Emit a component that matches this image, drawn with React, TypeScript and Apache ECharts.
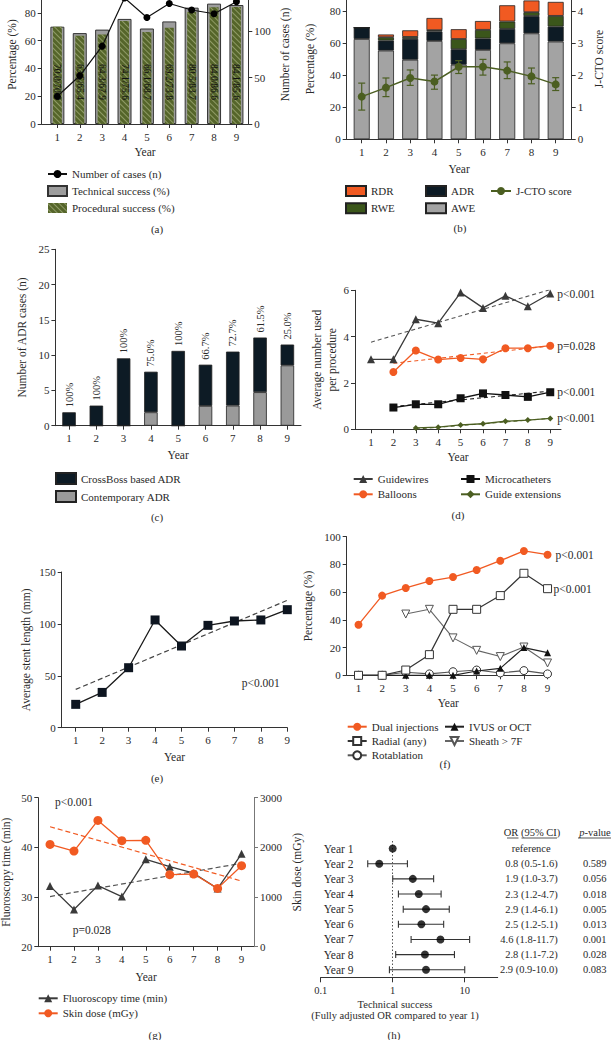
import React, { useEffect, useRef } from 'react';
import * as echarts from 'echarts';

// ---------- data ----------
const years = [1, 2, 3, 4, 5, 6, 7, 8, 9];

// (a)
const casesN = [30, 52, 84, 136, 115, 130, 123, 119, 132];
const technicalSuccess = [70.0, 65.4, 67.9, 75.6, 68.7, 73.8, 83.7, 86.6, 85.6];
const proceduralSuccess = [70.0, 63.5, 64.3, 74.1, 66.1, 69.2, 80.5, 84.0, 84.1];

// (b)
const awe = [62.5, 55.3, 49.6, 61.3, 46.5, 55.7, 59.8, 66.0, 60.9];
const adr = [7.1, 6.2, 13.0, 5.9, 9.6, 7.1, 9.0, 10.8, 9.3];
const rwe = [0, 2.1, 1.2, 0.8, 6.4, 5.4, 4.6, 2.4, 6.7];
const rdr = [0, 1.7, 4.1, 7.6, 6.1, 5.5, 10.1, 7.3, 8.7];
const jcto = [1.33, 1.61, 1.91, 1.8, 2.26, 2.26, 2.14, 1.96, 1.71];
const jctoLow = [0.91, 1.33, 1.68, 1.56, 2.05, 2.0, 1.89, 1.73, 1.52];
const jctoHigh = [1.75, 1.91, 2.16, 2.0, 2.45, 2.49, 2.41, 2.22, 1.92];

// (c)
const crossBossAdr = [1.9, 2.85, 9.55, 5.75, 10.6, 5.85, 7.65, 7.75, 2.95];
const contemporaryAdr = [0, 0, 0, 1.9, 0, 2.8, 2.85, 4.75, 8.55];
const crossBossPct = ['100%', '100%', '100%', '75.0%', '100%', '66.7%', '72.7%', '61.5%', '25.0%'];

// (d)
const guidewires = [3.02, 3.02, 4.75, 4.58, 5.9, 5.24, 5.76, 5.31, 5.86];
const balloons = [null, 2.47, 3.4, 3.01, 3.08, 3.02, 3.5, 3.5, 3.61];
const microcatheters = [null, 0.94, 1.08, 1.08, 1.34, 1.55, 1.48, 1.4, 1.6];
const guideExtensions = [null, null, 0.06, 0.09, 0.19, 0.24, 0.35, 0.4, 0.47];
const guidewiresTrend = [[1, 3.76], [9, 6.03]];
const balloonsTrend = [[2, 2.85], [9, 3.6]];
const microTrend = [[2, 0.98], [9, 1.65]];
const guideExtTrend = [[3, 0.01], [9, 0.47]];
const dPValues = ['p<0.001', 'p=0.028', 'p<0.001', 'p<0.001'];

// (e)
const stentLength = [22.5, 34, 57.8, 103.8, 78.7, 98.6, 102.8, 103.8, 113.7];
const stentTrend = [[1, 36.9], [9, 122.7]];

// (f)
const dualInjections = [36.5, 57.5, 63, 68, 70.9, 76, 82.7, 89.7, 87];
const radialAny = [0, 0, 3.8, 14.9, 47.6, 47.6, 57.5, 73.6, 62.5];
const ivusOct = [0, 0, 0, 0, 0, 3.1, 5, 20, 16.3];
const sheath7F = [null, null, 44.2, 47.6, 27, 18, 13.5, 20.4, 8.9];
const rotablation = [0, 0, 2.2, 1, 2.6, 3.8, 1.7, 3.4, 1];

// (g)
const fluoroTime = [32.2, 27.5, 32.3, 30.1, 37.6, 36.1, 34.8, 31.7, 38.7];
const skinDose = [2060, 1926, 2543, 2134, 2141, 1450, 1463, 1174, 1631];
const fluoroTrend = [[1, 30.1], [9, 36.8]];
const doseTrend = [[1, 2416], [9, 1322]];

// (h)
const yearLabels = ['Year 1', 'Year 2', 'Year 3', 'Year 4', 'Year 5', 'Year 6', 'Year 7', 'Year 8', 'Year 9'];
const orPoint = [1, 0.65, 1.9, 2.3, 2.9, 2.5, 4.6, 2.8, 2.9];
const orLow = [null, 0.45, 1.0, 1.2, 1.4, 1.2, 1.8, 1.1, 0.9];
const orHigh = [null, 1.6, 3.7, 4.7, 6.1, 5.1, 11.7, 7.2, 10.0];
const orText = ['reference', '0.8 (0.5-1.6)', '1.9 (1.0-3.7)', '2.3 (1.2-4.7)', '2.9 (1.4-6.1)', '2.5 (1.2-5.1)', '4.6 (1.8-11.7)', '2.8 (1.1-7.2)', '2.9 (0.9-10.0)'];
const pText = ['', '0.589', '0.056', '0.018', '0.005', '0.013', '0.001', '0.028', '0.083'];
const logTicks = [0.1, 1, 10];

// ---------- style ----------
const FONT = "'Liberation Serif', 'Times New Roman', serif";
const TXT = '#2a2a2a';
const AX = '#333333';
const ORANGE = '#f15a22';
const OLIVE = '#4b5e21';
const NAVY = '#0d1b25';
const GRAY = '#a3a3a3';

const lbl = (extra: any = {}) => ({ color: TXT, fontFamily: FONT, fontSize: 11, ...extra });
const axisLine = (color = AX) => ({ show: true, lineStyle: { color, width: 1 } });
const tickS = (len = 4, color = AX) => ({ show: true, length: len, lineStyle: { color, width: 1 } });

function yearAxis(gridIndex: number, min: number, max: number, nameGap: number, extra: any = {}) {
  return {
    type: 'value', gridIndex, min, max,
    axisLine: axisLine(), axisTick: { ...tickS(4), customValues: years },
    axisLabel: lbl({ customValues: years, margin: 7 }),
    splitLine: { show: false },
    name: 'Year', nameLocation: 'middle', nameGap, nameTextStyle: lbl({ fontSize: 11.5 }),
    ...extra,
  };
}

function valAxis(gridIndex: number, min: number, max: number, interval: number, name: string, nameGap: number, position = 'left', color = AX, extra: any = {}, hideMax = false) {
  return {
    type: 'value', gridIndex, min, max, interval, position,
    axisLine: axisLine(color), axisTick: tickS(4, color),
    axisLabel: lbl({ margin: 6, showMaxLabel: !hideMax, formatter: (v: number) => String(v) }),
    splitLine: { show: false },
    name, nameLocation: 'middle', nameGap, nameRotate: 90, nameTextStyle: lbl({ fontSize: 11.5 }),
    ...extra,
  };
}

const pairs = (arr: (number | null)[]) => years.map((y, i) => [y, arr[i]]);
// value first, year second (used with encode {x:1, y:0} so that stacking runs on the value dimension)
const pairsVY = (arr: number[]) => years.map((y, i) => [arr[i], y]);

const legendBase = (left: number, top: number, data: any[], itemGap: number, itemWidth = 19, itemHeight = 10) => ({
  left, top, orient: 'vertical', padding: 0, itemGap, itemWidth, itemHeight,
  selectedMode: false, data,
  textStyle: lbl({ fontSize: 11, lineHeight: 12 }),
});

function errV(color: string) {
  return (params: any, api: any) => {
    const x = api.value(0), lo = api.value(1), hi = api.value(2);
    const a = api.coord([x, lo]);
    const b = api.coord([x, hi]);
    const cw = 3.5;
    const style = { stroke: color, lineWidth: 1.2 };
    return {
      type: 'group', children: [
        { type: 'line', shape: { x1: a[0], y1: a[1], x2: b[0], y2: b[1] }, style },
        { type: 'line', shape: { x1: a[0] - cw, y1: a[1], x2: a[0] + cw, y2: a[1] }, style },
        { type: 'line', shape: { x1: b[0] - cw, y1: b[1], x2: b[0] + cw, y2: b[1] }, style },
      ],
    };
  };
}

function errH(params: any, api: any) {
  const lo = api.value(0), hi = api.value(1), yi = api.value(2);
  const a = api.coord([lo, yi]);
  const b = api.coord([hi, yi]);
  const ch = 3.5;
  const style = { stroke: '#333', lineWidth: 1.1 };
  return {
    type: 'group', children: [
      { type: 'line', shape: { x1: a[0], y1: a[1], x2: b[0], y2: b[1] }, style },
      { type: 'line', shape: { x1: a[0], y1: a[1] - ch, x2: a[0], y2: a[1] + ch }, style },
      { type: 'line', shape: { x1: b[0], y1: b[1] - ch, x2: b[0], y2: b[1] + ch }, style },
    ],
  };
}

const ptxt = (text: string, x: number, y: number, align = 'left', extra: any = {}) => ({
  type: 'text', x, y, silent: true,
  style: { text, fill: TXT, fontFamily: FONT, fontSize: 11, align, verticalAlign: 'middle', ...extra },
});

const endLbl = (text: string, distance = 7) => ({
  show: true, formatter: text, distance, color: TXT, fontFamily: FONT, fontSize: 11.5,
});

function buildOption() {
  const grids = [
    { left: 41.7, top: -15, width: 206.6, height: 139 },      // a
    { left: 346.7, top: -21.2, width: 225, height: 160.5 },   // b
    { left: 55.4, top: 249.3, width: 245.6, height: 176.4 },  // c
    { left: 355, top: 290.3, width: 206, height: 139 },       // d
    { left: 61.7, top: 572, width: 225.6, height: 155.7 },    // e
    { left: 346.7, top: 536.7, width: 203.2, height: 138.6 }, // f
    { left: 38.3, top: 797.7, width: 215.7, height: 149 },    // g
    { left: 320.7, top: 841, width: 177, height: 136.3 },     // h
  ].map((g) => ({ ...g, containLabel: false, outerBoundsMode: 'none' }));

  const xAxis: any[] = [
    yearAxis(0, 0.3, 9.53, 22),
    { type: 'value', gridIndex: 0, min: 0.3, max: 9.53, show: false },
    yearAxis(1, 0.381, 9.66, 24),
    yearAxis(2, 0.5, 9.5, 23),
    yearAxis(3, 0.286, 9.48, 22),
    yearAxis(4, 0.47, 9, 23),
    yearAxis(5, 0.5, 9.1, 22),
    yearAxis(6, 0.51, 9.52, 24),
    {
      type: 'log', gridIndex: 7, min: 0.1, max: 28.7, logBase: 10,
      axisLine: axisLine(), axisTick: { ...tickS(5), customValues: logTicks },
      axisLabel: lbl({ customValues: logTicks, margin: 8, fontSize: 10.5, formatter: (v: number) => String(v) }),
      splitLine: { show: false }, minorTick: { show: false },
    },
  ];

  const yAxis: any[] = [
    valAxis(0, 0, 100, 20, 'Percentage (%)', 24, 'left', AX, {}, true),
    valAxis(0, 0, 150, 50, 'Number of cases (n)', 31, 'right', AX, {}, true),
    valAxis(1, 0, 100, 20, 'Percentage (%)', 31, 'left', AX, {}, true),
    valAxis(1, 0, 5, 1, 'J-CTO score', 21, 'right', AX, {}, true),
    valAxis(2, 0, 25, 5, 'Number of ADR cases (n)', 27),
    valAxis(3, 0, 6, 2, 'Average number used\nper procedure', 15, 'left', AX, { nameTextStyle: lbl({ fontSize: 11.5, lineHeight: 15 }) }),
    valAxis(4, 0, 150, 50, 'Average stent length (mm)', 30),
    valAxis(5, 0, 100, 20, 'Percentage (%)', 33),
    valAxis(6, 20, 50, 10, 'Fluoroscopy time (min)', 26.5),
    valAxis(6, 0, 3000, 1000, 'Skin dose (mGy)', 37, 'right', '#777'),
    {
      type: 'category', gridIndex: 7, data: yearLabels, inverse: true,
      axisLine: { show: false }, axisTick: { show: false },
      axisLabel: lbl({ align: 'left', margin: -3, fontSize: 11.5, interval: 0, hideOverlap: false }),
    },
    {
      type: 'category', gridIndex: 7, data: orText, inverse: true, position: 'right',
      axisLine: { show: false }, axisTick: { show: false },
      axisLabel: lbl({
        align: 'right', margin: 60, fontSize: 10.5, interval: 0,
        formatter: (v: string) => (v === 'reference' ? `{ref|${v}}` : v),
        rich: { ref: { padding: [0, 7, 0, 0], fontFamily: FONT, fontSize: 10.5, color: TXT } },
      }),
    },
    {
      type: 'category', gridIndex: 7, data: pText, inverse: true, position: 'right',
      axisLine: { show: false }, axisTick: { show: false },
      axisLabel: lbl({ align: 'center', margin: 97, fontSize: 10.5, interval: 0 }),
    },
  ];

  const barBorder = { borderColor: '#222', borderWidth: 0.8 };
  const encVY = { x: 1, y: 0 };

  const series: any[] = [
    // (a)
    {
      type: 'bar', name: 'Technical success (%)', xAxisIndex: 0, yAxisIndex: 0, barWidth: 14, z: 2,
      data: pairs(technicalSuccess), itemStyle: { color: '#9d9d9d', borderColor: '#333', borderWidth: 1 },
    },
    {
      type: 'bar', name: 'Procedural success (%)', xAxisIndex: 1, yAxisIndex: 0, barWidth: 9, z: 3,
      data: pairs(proceduralSuccess),
      itemStyle: {
        color: '#55652a',
        decal: { symbol: 'rect', symbolSize: 1, color: 'rgba(190,200,150,0.55)', dashArrayX: [1, 0], dashArrayY: [1, 2.2], rotation: Math.PI / 4 },
      },
      label: {
        show: true, position: 'insideBottom', distance: 24, rotate: -90, align: 'right', verticalAlign: 'middle',
        color: '#111', fontFamily: FONT, fontSize: 9.5,
        formatter: (p: any) => `${proceduralSuccess[p.dataIndex].toFixed(1)}/${technicalSuccess[p.dataIndex].toFixed(1)}`,
      },
    },
    {
      type: 'line', name: 'Number of cases (n)', xAxisIndex: 0, yAxisIndex: 1, z: 6,
      data: pairs(casesN), symbol: 'circle', symbolSize: 7,
      itemStyle: { color: '#000' }, lineStyle: { color: '#111', width: 1.2 },
    },
    // (b)
    { type: 'bar', name: 'AWE', stack: 'b', xAxisIndex: 2, yAxisIndex: 2, barWidth: 16, encode: encVY, data: pairsVY(awe), itemStyle: { color: GRAY, ...barBorder } },
    { type: 'bar', name: 'ADR', stack: 'b', xAxisIndex: 2, yAxisIndex: 2, barWidth: 16, encode: encVY, data: pairsVY(adr), itemStyle: { color: NAVY, ...barBorder } },
    { type: 'bar', name: 'RWE', stack: 'b', xAxisIndex: 2, yAxisIndex: 2, barWidth: 16, encode: encVY, data: pairsVY(rwe), itemStyle: { color: '#3b561b', ...barBorder } },
    { type: 'bar', name: 'RDR', stack: 'b', xAxisIndex: 2, yAxisIndex: 2, barWidth: 16, encode: encVY, data: pairsVY(rdr), itemStyle: { color: ORANGE, ...barBorder } },
    {
      type: 'custom', xAxisIndex: 2, yAxisIndex: 3, z: 5, renderItem: errV(OLIVE),
      data: years.map((y, i) => [y, jctoLow[i], jctoHigh[i]]), encode: { x: 0, y: [1, 2] },
    },
    {
      type: 'line', name: 'J-CTO score', xAxisIndex: 2, yAxisIndex: 3, z: 6, data: pairs(jcto),
      symbol: 'circle', symbolSize: 8, itemStyle: { color: OLIVE }, lineStyle: { color: OLIVE, width: 1.5 },
    },
    // (c)
    { type: 'bar', name: 'Contemporary ADR', stack: 'c', xAxisIndex: 3, yAxisIndex: 4, barWidth: 13.5, encode: encVY, data: pairsVY(contemporaryAdr), itemStyle: { color: '#9a9a9a', ...barBorder } },
    {
      type: 'bar', name: 'CrossBoss based ADR', stack: 'c', xAxisIndex: 3, yAxisIndex: 4, barWidth: 13.5, encode: encVY, data: pairsVY(crossBossAdr),
      itemStyle: { color: NAVY, ...barBorder },
      label: {
        show: true, position: 'top', distance: 5, rotate: 90, align: 'left', verticalAlign: 'middle',
        color: TXT, fontFamily: FONT, fontSize: 10.5, formatter: (p: any) => crossBossPct[p.dataIndex],
      },
    },
    // (d)
    { type: 'line', xAxisIndex: 4, yAxisIndex: 5, data: guidewiresTrend, symbol: 'none', lineStyle: { color: '#555', width: 1.1, type: [4, 3] }, z: 1 },
    { type: 'line', xAxisIndex: 4, yAxisIndex: 5, data: balloonsTrend, symbol: 'none', lineStyle: { color: ORANGE, width: 1.1, type: [4, 3] }, z: 1 },
    { type: 'line', xAxisIndex: 4, yAxisIndex: 5, data: microTrend, symbol: 'none', lineStyle: { color: '#222', width: 1.1, type: [4, 3] }, z: 1 },
    { type: 'line', xAxisIndex: 4, yAxisIndex: 5, data: guideExtTrend, symbol: 'none', lineStyle: { color: OLIVE, width: 1, type: [4, 3] }, z: 1 },
    {
      type: 'line', name: 'Guidewires', xAxisIndex: 4, yAxisIndex: 5, data: pairs(guidewires), symbol: 'triangle', symbolSize: 8,
      itemStyle: { color: '#3a3a3a' }, lineStyle: { color: '#3a3a3a', width: 1.3 }, endLabel: endLbl(dPValues[0]),
    },
    {
      type: 'line', name: 'Balloons', xAxisIndex: 4, yAxisIndex: 5, data: pairs(balloons), symbol: 'circle', symbolSize: 8,
      itemStyle: { color: ORANGE }, lineStyle: { color: ORANGE, width: 1.3 }, endLabel: endLbl(dPValues[1]),
    },
    {
      type: 'line', name: 'Microcatheters', xAxisIndex: 4, yAxisIndex: 5, data: pairs(microcatheters), symbol: 'rect', symbolSize: 8,
      itemStyle: { color: '#111' }, lineStyle: { color: '#111', width: 1.3 }, endLabel: endLbl(dPValues[2]),
    },
    {
      type: 'line', name: 'Guide extensions', xAxisIndex: 4, yAxisIndex: 5, data: pairs(guideExtensions), symbol: 'diamond', symbolSize: 6,
      itemStyle: { color: OLIVE }, lineStyle: { color: OLIVE, width: 1.3 }, endLabel: endLbl(dPValues[3]),
    },
    // (e)
    { type: 'line', xAxisIndex: 5, yAxisIndex: 6, data: stentTrend, symbol: 'none', lineStyle: { color: '#444', width: 1.2, type: [5, 3] }, z: 1 },
    {
      type: 'line', xAxisIndex: 5, yAxisIndex: 6, data: pairs(stentLength), symbol: 'rect', symbolSize: 9,
      itemStyle: { color: '#0d1520' }, lineStyle: { color: '#1a1a1a', width: 1.3 },
    },
    // (f)
    {
      type: 'line', name: 'Dual injections', xAxisIndex: 6, yAxisIndex: 7, data: pairs(dualInjections), symbol: 'circle', symbolSize: 8,
      itemStyle: { color: ORANGE }, lineStyle: { color: ORANGE, width: 1.3 }, endLabel: endLbl('p<0.001', 8), z: 6,
    },
    {
      type: 'line', name: 'Radial (any)', xAxisIndex: 6, yAxisIndex: 7, data: pairs(radialAny), symbol: 'rect', symbolSize: 8,
      itemStyle: { color: '#fff', borderColor: '#333', borderWidth: 1 }, lineStyle: { color: '#333', width: 1.2 }, endLabel: endLbl('p<0.001', 6), z: 5,
    },
    {
      type: 'line', name: 'Rotablation', xAxisIndex: 6, yAxisIndex: 7, data: pairs(rotablation), symbol: 'circle', symbolSize: 8,
      itemStyle: { color: '#fff', borderColor: '#333', borderWidth: 1 }, lineStyle: { color: '#555', width: 1.1 }, z: 3,
    },
    {
      type: 'line', name: 'IVUS or OCT', xAxisIndex: 6, yAxisIndex: 7, data: pairs(ivusOct), symbol: 'triangle', symbolSize: 7,
      itemStyle: { color: '#111' }, lineStyle: { color: '#222', width: 1.2 }, z: 4,
    },
    {
      type: 'line', name: 'Sheath > 7F', xAxisIndex: 6, yAxisIndex: 7, data: pairs(sheath7F), symbol: 'triangle', symbolRotate: 180, symbolSize: 8,
      itemStyle: { color: '#fff', borderColor: '#555', borderWidth: 1 }, lineStyle: { color: '#666', width: 1.1 }, z: 3,
    },
    // (g)
    { type: 'line', xAxisIndex: 7, yAxisIndex: 8, data: fluoroTrend, symbol: 'none', lineStyle: { color: '#555', width: 1.2, type: [5, 3] }, z: 1 },
    { type: 'line', xAxisIndex: 7, yAxisIndex: 9, data: doseTrend, symbol: 'none', lineStyle: { color: ORANGE, width: 1.2, type: [5, 3] }, z: 1 },
    {
      type: 'line', name: 'Fluoroscopy time (min)', xAxisIndex: 7, yAxisIndex: 8, data: pairs(fluoroTime), symbol: 'triangle', symbolSize: 8,
      itemStyle: { color: '#3a3a3a' }, lineStyle: { color: '#3a3a3a', width: 1.3 },
    },
    {
      type: 'line', name: 'Skin dose (mGy)', xAxisIndex: 7, yAxisIndex: 9, data: pairs(skinDose), symbol: 'circle', symbolSize: 9,
      itemStyle: { color: ORANGE }, lineStyle: { color: ORANGE, width: 1.3 },
    },
    // (h)
    {
      type: 'custom', xAxisIndex: 8, yAxisIndex: 10, z: 3, renderItem: errH,
      data: orLow.map((lo, i) => (lo == null ? null : [lo, orHigh[i], i])).filter((d) => d != null),
      encode: { x: [0, 1], y: 2 },
    },
    {
      type: 'scatter', xAxisIndex: 8, yAxisIndex: 10, z: 5, symbolSize: 8,
      data: orPoint.map((v, i) => [v, i]), itemStyle: { color: '#000' },
      markLine: {
        silent: true, symbol: 'none', label: { show: false },
        lineStyle: { type: [1.5, 2], color: '#555', width: 1 },
        data: [{ xAxis: 1 }],
      },
    },
  ];

  const legend = [
    legendBase(47, 168, [{ name: 'Number of cases (n)' }, { name: 'Technical success (%)', icon: 'rect' }, { name: 'Procedural success (%)', icon: 'rect' }], 5),
    legendBase(345, 185, [{ name: 'RDR', icon: 'rect' }, { name: 'RWE', icon: 'rect' }], 5.3, 20, 10),
    legendBase(425, 185, [{ name: 'ADR', icon: 'rect' }, { name: 'AWE', icon: 'rect' }], 5.3, 20, 10),
    legendBase(490, 185, [{ name: 'J-CTO score' }], 5.3, 20, 10),
    legendBase(55, 472, [{ name: 'CrossBoss based ADR', icon: 'rect' }, { name: 'Contemporary ADR', icon: 'rect' }], 5, 20, 11),
    legendBase(352.7, 473, [{ name: 'Guidewires' }, { name: 'Balloons' }], 3.3),
    legendBase(460, 473, [{ name: 'Microcatheters' }, { name: 'Guide extensions' }], 3.3),
    legendBase(346.7, 720.7, [{ name: 'Dual injections' }, { name: 'Radial (any)' }, { name: 'Rotablation' }], 2.3),
    legendBase(444, 720.7, [{ name: 'IVUS or OCT' }, { name: 'Sheath > 7F' }], 2.3),
    legendBase(37.7, 992.3, [{ name: 'Fluoroscopy time (min)' }, { name: 'Skin dose (mGy)' }], 3),
  ];

  const graphic: any[] = [
    ptxt('(a)', 157, 229, 'center'),
    ptxt('(b)', 460, 228, 'center'),
    ptxt('(c)', 157, 516.7, 'center'),
    ptxt('(d)', 458, 515, 'center'),
    ptxt('(e)', 157, 778, 'center'),
    ptxt('(f)', 445, 764, 'center'),
    ptxt('(g)', 155, 1035, 'center'),
    ptxt('(h)', 394, 1035, 'center'),
    ptxt('p<0.001', 241.7, 683.3, 'left', { fontSize: 11.5 }),
    ptxt('p<0.001', 55, 802.3, 'left', { fontSize: 11.5 }),
    ptxt('p=0.028', 72.7, 930, 'left', { fontSize: 11.5 }),
    ptxt('Technical success\n(Fully adjusted OR compared to year 1)', 395, 1010, 'center', { fontSize: 10.5, lineHeight: 10.5 }),
    ptxt('OR (95% CI)', 532, 832.7, 'center', { fontSize: 10.5 }),
    {
      type: 'text', x: 595, y: 832.7, silent: true,
      style: {
        text: '{i|p}-value', fill: TXT, fontFamily: FONT, fontSize: 10.5, align: 'center', verticalAlign: 'middle',
        rich: { i: { fontStyle: 'italic', fontFamily: FONT, fontSize: 10.5, fill: TXT } },
      },
    },
    { type: 'line', silent: true, shape: { x1: 507, y1: 838, x2: 518.5, y2: 838 }, style: { stroke: TXT, lineWidth: 0.8 } },
    { type: 'line', silent: true, shape: { x1: 521.5, y1: 838, x2: 557, y2: 838 }, style: { stroke: TXT, lineWidth: 0.8 } },
    { type: 'line', silent: true, shape: { x1: 578, y1: 838, x2: 611, y2: 838 }, style: { stroke: TXT, lineWidth: 0.8 } },
  ];

  return {
    animation: false,
    backgroundColor: '#ffffff',
    textStyle: { fontFamily: FONT },
    grid: grids,
    xAxis,
    yAxis,
    series,
    legend,
    graphic,
  };
}

export default function App() {
  const ref = useRef<HTMLDivElement>(null);
  useEffect(() => {
    const chart = echarts.init(ref.current as HTMLDivElement, null, { renderer: 'svg' });
    chart.setOption(buildOption() as any);
    return () => chart.dispose();
  }, []);
  return (
    <div
      ref={ref}
      style={{ position: 'fixed', left: 0, top: 0, width: 611, height: 1040, background: '#fff' }}
    />
  );
}
